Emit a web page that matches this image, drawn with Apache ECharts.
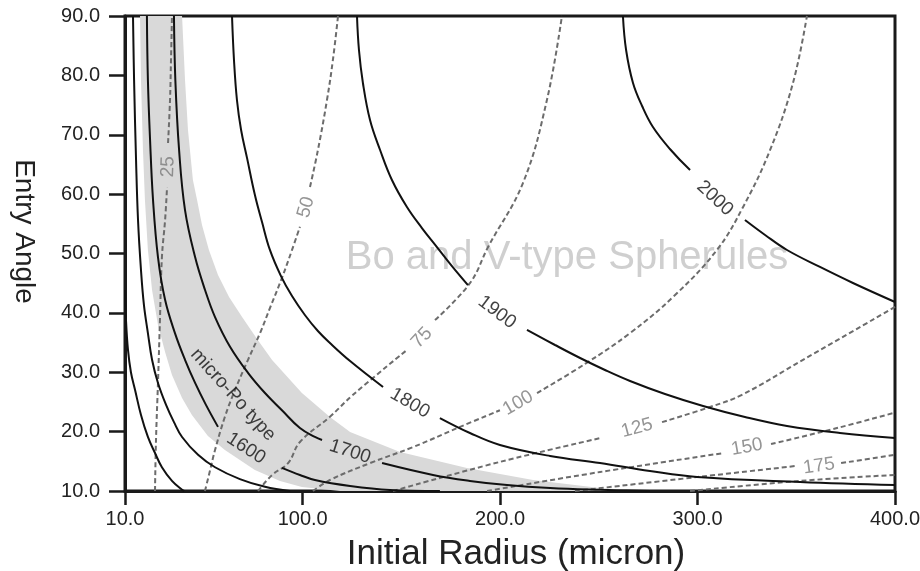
<!DOCTYPE html>
<html>
<head>
<meta charset="utf-8">
<script src="https://cdn.jsdelivr.net/npm/echarts@6/dist/echarts.min.js"></script>
<style>
html,body{margin:0;padding:0;background:#ffffff;}
#chart{width:920px;height:571px;}
</style>
</head>
<body>
<div id="chart"></div>
<script>
// ---------- axis ticks ----------
const xTickValues = [10, 100, 200, 300, 400];
const yTickValues = [10, 20, 30, 40, 50, 60, 70, 80, 90];

// ---------- solid contours (null = gap for inline label) ----------
const temp1400 = [[10,43.85],[10.5,38.8],[11.5,33.8],[13.0,30.0],[15.1,27.0],[18.1,22.8],[21.6,19.1],
                  [25.2,16.4],[28.7,14.0],[33.8,11.7],[38.9,10.2],[40.0,10.0]];
const temp1500 = [[14.05,90],[14.6,79.2],[15.6,65.7],[16.6,55.6],[18.1,47.2],[19.6,41.3],[21.6,36.6],
                  [23.7,32.1],[26.7,28.2],[30.8,24.5],[34.8,21.6],[38.9,19.1],[47.0,16.1],[55.6,14.0],
                  [68.2,12.0],[80.9,10.7],[93.6,10.0]];
const temp1600 = [[21.1,90],[21.6,79.2],[22.7,69.1],[24.2,59.0],[26.7,49.4],[30.3,42.2],[35.3,36.6],
                  [40.4,32.1],[45.5,28.2],[51.0,24.5],[57.1,20.8], null,
                  [89.5,13.9],[98.6,12.7],[106.2,11.85],[124.0,10.84],[144.2,10.17],[169.5,10.0]];
const temp1700 = [[34.8,90],[35.5,79.2],[37.4,67.4],[40.4,57.3],[45.5,49.4],[50.5,43.9],[55.6,39.3],
                  [63.2,34.3],[72.3,29.9],[80.9,26.5],[89.5,23.6],[98.6,20.6],[106.2,19.1],[109.8,18.6], null,
                  [140.2,14.7],[166.0,12.7],[184.7,11.7],[203.5,11.0],[225.3,10.5],[250.6,10.2],[275.9,10.0]];
const temp1800 = [[64.2,90],[65.2,82.6],[66.7,75.85],[68.8,70.8],[71.8,66.1],[75.8,59.85],[79.4,55.3],
                  [83.4,50.6],[89.0,46.2],[94.6,42.84],[101.2,39.6],[107.7,36.95],[113.8,34.93],[124.0,31.89],
                  [140.7,27.52], null,
                  [169.5,22.29],[184.7,19.77],[199.9,17.75],[225.3,15.9],[250.6,14.72],[275.9,13.37],
                  [299.7,12.36],[351.9,11.52],[400,11.0]];
const temp1900 = [[127.5,90],[128.5,84.27],[130.5,78.72],[134.1,72.48],[139.2,67.43],[145.2,62.38],
                  [152.8,57.83],[160.4,54.29],[168.0,51.09],[175.6,47.89],[183.7,44.69], null,
                  [213.6,37.12],[227.8,34.59],[240.5,32.40],[253.1,30.38],[265.8,28.53],[283.5,26.34],
                  [302.8,24.32],[324.0,22.46],[345.3,20.95],[372.1,19.77],[400,18.93]];
const temp2000 = [[262.2,90],[263.8,84.27],[267.3,78.72],[271.9,74.84],[277.4,71.30],[286.0,67.60],[296.2,64.06], null,
                  [324.0,55.64],[334.2,53.12],[345.3,50.59],[362.0,47.73],[378.7,45.03],[400,41.83]];

// ---------- dashed contours ----------
const frac25  = [[25.2,10],[25.7,18.6],[26.7,28.2],[27.7,38.8],[28.7,49.4],[30.3,55.6],[31.3,61.2], null,
                 [31.8,68.6],[32.8,75.85],[33.3,82.6],[33.8,90]];
const frac50  = [[50.5,10],[53.1,13.5],[55.6,16.9],[60.6,22.5],[65.7,27.0],[72.3,32.1],[78.4,36.6],[83.4,40.8],
                 [89.5,45.9],[94.6,50.6],[98.6,54.5], null,
                 [103.7,61.2],[107.7,67.4],[112.3,75.85],[115.3,82.6],[117.9,90]];
const frac75  = [[77.4,10],[84.5,12.7],[92.6,14.7],[98.6,18.25],[113.8,22.5],[125.5,26.2],[152.8,33.75], null,
                 [167.0,38.8],[184.7,45.0],[193.9,51.1],[211.6,61.9],[223.7,75.85],[231.3,90]];
const frac100 = [[105.2,10],[113.8,11.85],[134.1,14.7],[155.9,17.4],[179.7,20.8],[199.9,23.6], null,
                 [218.7,26.5],[243.0,31.4],[265.8,36.6],[288.6,43.0],[309.8,50.6],[323.0,57.8],[336.7,67.4],
                 [348.3,78.7],[355.4,90]];
const frac125 = [[145.7,10],[199.9,14.9],[250.6,18.9], null,
                 [282.0,21.6],[306.3,24.15],[322.5,26.2],[353.4,32.1],[400,41.0]];
const frac150 = [[193.4,10],[250.6,13.2],[313.4,16.4], null, [337.2,17.9],[370.6,20.6],[400,23.2]];
const frac175 = [[237.9,10],[301.2,12.4],[349.4,14.2], null, [372.7,14.7],[400,16.1]];
const frac200 = [[296.2,10],[351.9,11.7],[400,12.7]];

// ---------- micro-Po band edges ----------
const bandLowerEdge = [[17.6,90],[18.1,79.22],[19.1,67.43],[20.1,59.01],[21.6,50.59],[23.7,43.85],[26.7,37.96],
                       [30.3,33.41],[33.8,29.54],[38.9,25.66],[43.9,22.80],[52.0,19.26],[60.6,16.91],[75.8,13.54],
                       [88.5,11.68],[99.6,10.67],[118.9,10]];
const bandUpperEdge = [[38.9,90],[40.4,79.22],[41.9,70.80],[44.4,62.38],[46.5,59.01],[49.0,54.8],[52.5,50.59],
                       [57.1,46.38],[62.7,42.67],[69.3,39.31],[76.9,35.6],[84.5,32.06],[99.6,26.50],[113.8,22.46],
                       [124.0,19.94],[149.3,16.57],[183.2,13.87],[216.7,11.85],[250.6,10.51],[270.8,10]];

// ---------- inline label texts and anchors ----------
const solidLabelText = ['1600','1700','1800','1900','2000','micro-Po type'];
const solidLabelAt   = [[71.3,17.2],[124.0,16.6],[154.3,24.8],[198.4,40.1],[308.8,59.3],[64.7,26.2]];
const dashLabelText  = ['25','50','75','100','125','150','175'];
const dashLabelAt    = [[31.8,64.6],[101.7,57.8],[160.4,35.8],[209.1,24.8],[269.3,20.6],[325.0,17.4],[361.5,14.2]];
const regionText = 'Bo and V-type Spherules';
const regionAt = [233.9, 49.2];

// ---------- styles ----------
const solidRot = [-33,-18,-30,-37,-43,-48];
const dashRot  = [88,74,47,30,15,10,8];
const FONT = 'Liberation Sans, Arial, Helvetica, sans-serif';

function split(arr){
  const out=[[]];
  arr.forEach(p=>{ if(p===null) out.push([]); else out[out.length-1].push(p); });
  return out.filter(s=>s.length>1);
}

const series = [];
const bandPolygon = bandLowerEdge.concat(bandUpperEdge.slice().reverse());
series.push({
  type:'custom', silent:true, z:1,
  data:[[10,10]],
  renderItem:(params, api)=>({
    type:'polygon',
    shape:{points: bandPolygon.map(p=>api.coord(p))},
    style:{fill:'#d9d9d9'}
  })
});

series.push({
  type:'scatter', silent:true, z:2, symbolSize:0,
  data:[{value:regionAt, label:{show:true, position:'inside', formatter:regionText,
          fontSize:40, color:'#c3c3c3', fontFamily:FONT}}]
});

[temp1400,temp1500,temp1600,temp1700,temp1800,temp1900,temp2000].forEach(c=>{
  split(c).forEach(seg=>series.push({
    type:'line', data:seg, showSymbol:false, symbol:'none', smooth:0.4, silent:true, z:4,
    lineStyle:{color:'#111111', width:2}
  }));
});
[frac25,frac50,frac75,frac100,frac125,frac150,frac175,frac200].forEach(c=>{
  split(c).forEach(seg=>series.push({
    type:'line', data:seg, showSymbol:false, symbol:'none', smooth:0.4, silent:true, z:3,
    lineStyle:{color:'#6c6c6c', width:2, type:[5,3]}
  }));
});

series.push({
  type:'scatter', silent:true, z:5, symbolSize:0,
  data: solidLabelText.map((t,i)=>({value:solidLabelAt[i], label:{show:true, position:'inside',
        formatter:t, rotate:solidRot[i], fontSize:19, color:'#111111', fontFamily:FONT}}))
});
series.push({
  type:'scatter', silent:true, z:5, symbolSize:0,
  data: dashLabelText.map((t,i)=>({value:dashLabelAt[i], label:{show:true, position:'inside',
        formatter:t, rotate:dashRot[i], fontSize:19, color:'#7a7a7a', fontFamily:FONT}}))
});

const chart = echarts.init(document.getElementById('chart'));
chart.setOption({
  animation:false,
  backgroundColor:'#ffffff',
  textStyle:{fontFamily:FONT},
  grid:{left:125, right:25, top:16, bottom:80, show:true, borderColor:'#1a1a1a', borderWidth:3,
        backgroundColor:'transparent', containLabel:false, outerBoundsMode:'none'},
  xAxis:{
    type:'value', min:10, max:400,
    name:'Initial Radius (micron)', nameLocation:'middle', nameGap:46,
    nameTextStyle:{fontSize:35, color:'#222222', fontFamily:FONT, padding:[0,0,0,12]},
    axisLine:{show:true, lineStyle:{color:'#1a1a1a', width:3}},
    axisTick:{show:true, customValues:xTickValues, length:14, lineStyle:{color:'#1a1a1a', width:2.5}},
    axisLabel:{customValues:xTickValues, formatter:v=>Number(v).toFixed(1), fontSize:20, color:'#222222', margin:18, fontFamily:FONT},
    splitLine:{show:false}
  },
  yAxis:{
    type:'value', min:10, max:90, interval:10,
    name:'Entry Angle', nameLocation:'middle', nameRotate:-90, nameGap:87,
    nameTextStyle:{fontSize:28, color:'#222222', fontFamily:FONT, padding:[0,44,0,0]},
    axisLine:{show:true, lineStyle:{color:'#1a1a1a', width:3}},
    axisTick:{show:true, length:16, lineStyle:{color:'#1a1a1a', width:2.5}},
    axisLabel:{formatter:v=>Number(v).toFixed(1), fontSize:20, color:'#222222', margin:25, fontFamily:FONT},
    splitLine:{show:false}
  },
  series:series
});
</script>
</body>
</html>
